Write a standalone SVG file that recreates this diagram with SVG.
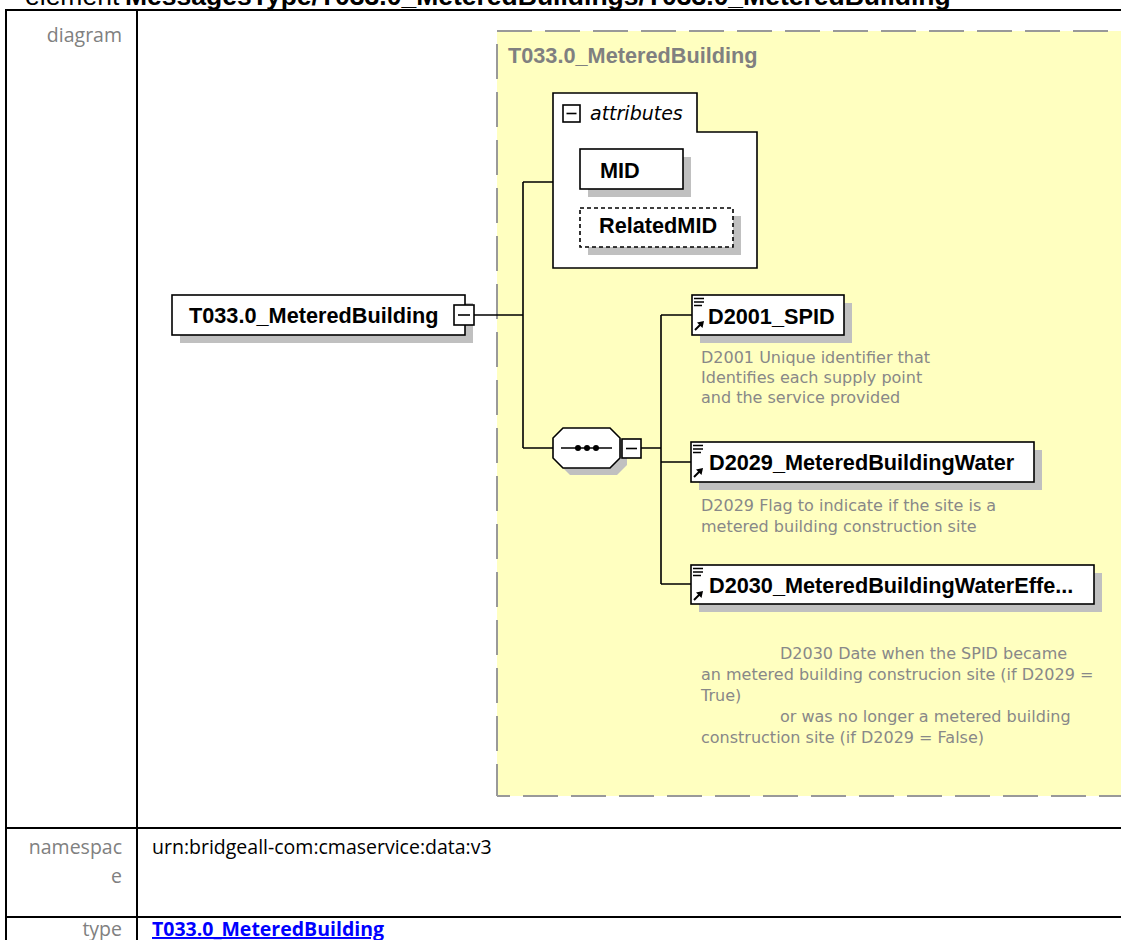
<svg xmlns="http://www.w3.org/2000/svg" xmlns:xlink="http://www.w3.org/1999/xlink" width="1121" height="940" viewBox="0 0 1121 940">
<style>
.tbl{stroke:#000;stroke-width:2;fill:none}
.lbl{font-family:"Open Sans","Noto Sans",sans-serif;font-size:19.5px;fill:#808080;text-anchor:end}
.val{font-family:"Open Sans","Noto Sans",sans-serif;font-size:19.5px;fill:#000}
.link{font-family:"Open Sans","Noto Sans",sans-serif;font-size:19.5px;font-weight:bold;fill:#0000FF;text-decoration:underline}
.box{fill:#fff;stroke:#000;stroke-width:1.6}
.dbox{fill:#fff;stroke:#000;stroke-width:1.6;stroke-dasharray:4 3}
.shadow{fill:#c0c0c0}
.name{font-family:"Liberation Sans",Arial,sans-serif;font-weight:bold;font-size:21.7px;fill:#000}
.desc{font-family:"DejaVu Sans",Verdana,sans-serif;font-size:16px;fill:#888}
.conn{stroke:#000;stroke-width:1.6;fill:none}
.ydash{stroke:#999;stroke-width:2;fill:none;stroke-dasharray:35 13}
.minus{stroke:#000;stroke-width:1.6}
</style>
<defs>
<g id="refIcon">
<path d="M2,3.5H12M2,7H12M2,10.5H10" stroke="#000" stroke-width="1.3" fill="none"/>
<path d="M3,35L9,29" stroke="#000" stroke-width="2" fill="none"/>
<polygon points="12,26 5,27.5 10.5,33" fill="#000"/>
</g>
</defs>

<!-- page title (clipped at the top edge, as in the reference) -->
<text x="25" y="4.5" font-family="Liberation Sans,Arial,sans-serif" font-size="26.5">element</text>
<text x="125" y="4.5" font-family="Liberation Sans,Arial,sans-serif" font-size="26.5" font-weight="bold">MessagesType/T033.0_MeteredBuildings/T033.0_MeteredBuilding</text>

<!-- table -->
<g id="table">
<path class="tbl" d="M5,10H1121M6,10V940M137,10V940M5,828H1121M5,917H1121"/>
<text class="lbl" x="122" y="42">diagram</text>
<text class="lbl" x="122" y="854">namespac</text>
<text class="lbl" x="122" y="883">e</text>
<text class="val" x="152" y="854">urn:bridgeall-com:cmaservice:data:v3</text>
<text class="lbl" x="122" y="936">type</text>
<text class="link" x="152" y="936">T033.0_MeteredBuilding</text>
</g>

<!-- complex type area -->
<g id="typeArea">
<rect x="497" y="31" width="640" height="765" fill="#FFFFC0"/>
<path class="ydash" d="M497,31H1121"/>
<path class="ydash" d="M497,31V796" stroke-dashoffset="35"/>
<path class="ydash" d="M497,796H1121" stroke-dashoffset="22"/>
<text class="name" x="508" y="63" style="fill:#808080">T033.0_MeteredBuilding</text>
</g>

<!-- connectors -->
<g id="connectors">
<path class="conn" d="M474,315H523M523,182V448M523,182H553M523,448H553M641,448H661M661,315V584M661,315H692M661,462H691M661,584H691"/>
</g>

<g id="node-root">
<rect class="shadow" x="180" y="303" width="293" height="40"/>
<rect class="box" x="172" y="295" width="293" height="40"/>
<text class="name" x="189" y="323">T033.0_MeteredBuilding</text>
<rect class="box" x="454" y="305" width="20" height="20"/>
<path class="minus" d="M458,315H470"/>
</g>

<g id="node-attributes">
<path class="box" d="M553,93H697V132H757V268H553Z"/>
<rect class="box" x="563" y="105" width="17" height="17"/>
<path class="minus" d="M566.5,113.5H576.5"/>
<text x="590" y="120" font-family="DejaVu Sans,Verdana,sans-serif" font-style="italic" font-size="19px" fill="#000">attributes</text>
</g>

<g id="node-MID">
<rect class="shadow" x="588" y="157" width="103" height="40"/>
<rect class="box" x="580" y="149" width="103" height="40"/>
<text class="name" x="600" y="178">MID</text>
</g>

<g id="node-RelatedMID">
<rect class="shadow" x="588" y="216" width="153" height="39"/>
<rect class="dbox" x="580" y="208" width="153" height="39"/>
<text class="name" x="599" y="233">RelatedMID</text>
</g>

<g id="node-sequence">
<polygon class="shadow" points="570,435 617,435 627,445 627,465 617,475 570,475 560,465 560,445"/>
<polygon class="box" points="563,428 610,428 620,438 620,458 610,468 563,468 553,458 553,438"/>
<path class="conn" d="M561,448H612"/>
<circle cx="578" cy="448" r="3"/>
<circle cx="587" cy="448" r="3"/>
<circle cx="596" cy="448" r="3"/>
<rect class="box" x="622" y="439" width="19" height="19"/>
<path class="minus" d="M626,448.5H637"/>
</g>

<g id="node-D2001_SPID">
<rect class="shadow" x="700" y="303" width="152" height="40"/>
<rect class="box" x="692" y="295" width="152" height="40"/>
<use xlink:href="#refIcon" x="692" y="295"/>
<text class="name" x="708" y="324">D2001_SPID</text>
<text class="desc" x="701" y="363">D2001 Unique identifier that</text>
<text class="desc" x="701" y="383">Identifies each supply point</text>
<text class="desc" x="701" y="403">and the service provided</text>
</g>

<g id="node-D2029">
<rect class="shadow" x="699" y="450" width="343" height="40"/>
<rect class="box" x="691" y="442" width="343" height="40"/>
<use xlink:href="#refIcon" x="691" y="442"/>
<text class="name" x="709" y="470">D2029_MeteredBuildingWater</text>
<text class="desc" x="701" y="511">D2029 Flag to indicate if the site is a</text>
<text class="desc" x="701" y="532">metered building construction site</text>
</g>

<g id="node-D2030">
<rect class="shadow" x="699" y="573" width="403" height="39"/>
<rect class="box" x="691" y="565" width="403" height="39"/>
<use xlink:href="#refIcon" x="691" y="565"/>
<text class="name" x="709" y="593">D2030_MeteredBuildingWaterEffe...</text>
<text class="desc" x="780" y="659">D2030 Date when the SPID became</text>
<text class="desc" x="701" y="680">an metered building construcion site (if D2029 =</text>
<text class="desc" x="701" y="701">True)</text>
<text class="desc" x="780" y="722">or was no longer a metered building</text>
<text class="desc" x="701" y="743">construction site (if D2029 = False)</text>
</g>
</svg>
